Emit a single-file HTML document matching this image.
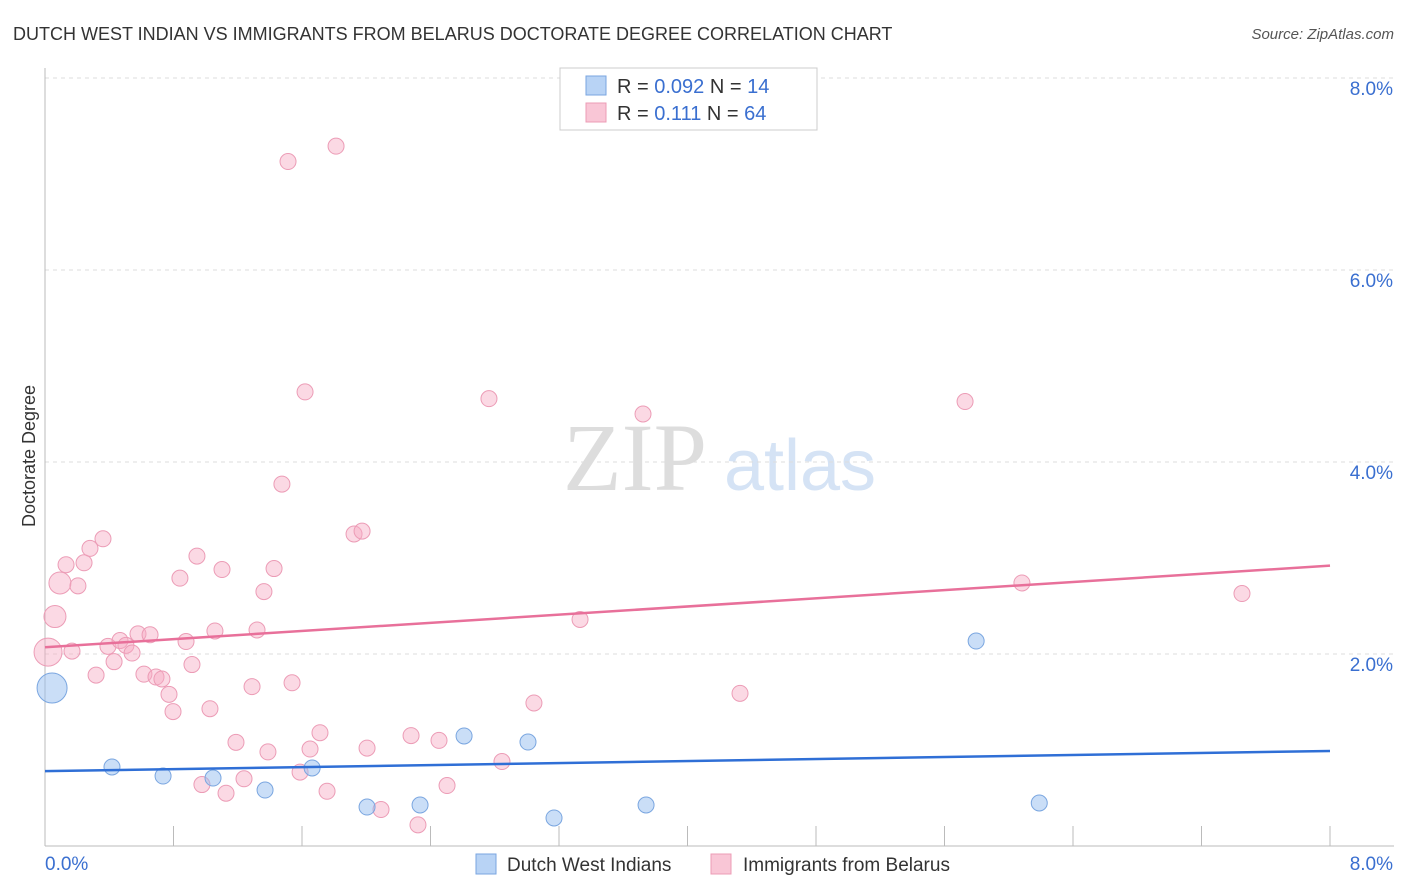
<!DOCTYPE html>
<html><head><meta charset="utf-8"><style>
body{margin:0;background:#fff;font-family:"Liberation Sans",sans-serif;}
#wrap{position:relative;width:1406px;height:892px;overflow:hidden}
</style></head><body>
<div id="wrap">
<svg id="svg" width="1406" height="892">
<text x="13" y="40" font-size="18" fill="#333">DUTCH WEST INDIAN VS IMMIGRANTS FROM BELARUS DOCTORATE DEGREE CORRELATION CHART</text>
<text x="1394" y="39" font-size="15" fill="#555" font-style="italic" text-anchor="end">Source: ZipAtlas.com</text>
<text x="35" y="456" font-size="18" fill="#333" text-anchor="middle" transform="rotate(-90 35 456)">Doctorate Degree</text>
<g><text x="635" y="490" font-size="96" fill="#ddd" font-family="Liberation Serif" text-anchor="middle">ZIP</text><text x="800" y="490" font-size="72" fill="#d5e3f5" text-anchor="middle">atlas</text></g>
<g id="grid"></g><g id="pts"></g><g id="lines"></g>
<g>
<rect x="560" y="68" width="257" height="62" fill="#fff" stroke="#ccc"/>
<rect x="586" y="76" width="20" height="19" fill="#b8d3f5" stroke="#7aa6e0"/>
<rect x="586" y="103" width="20" height="19" fill="#f9c6d6" stroke="#ec9cb6"/>
<text x="617" y="93" font-size="20" fill="#333">R = <tspan fill="#3a6fd0">0.092</tspan>   N = <tspan fill="#3a6fd0"> 14</tspan></text>
<text x="617" y="120" font-size="20" fill="#333">R = <tspan fill="#3a6fd0">  0.111</tspan>   N = <tspan fill="#3a6fd0">64</tspan></text>
</g>
<g>
<rect x="476" y="854" width="20" height="20" fill="#b8d3f5" stroke="#7aa6e0"/>
<text x="507" y="871" font-size="19" fill="#333">Dutch West Indians</text>
<rect x="711" y="854" width="20" height="20" fill="#f9c6d6" stroke="#ec9cb6"/>
<text x="743" y="871" font-size="19" fill="#333">Immigrants from Belarus</text>
</g>
</svg>
<script>
const yTicks=[2,4,6,8];
const xTickLabels=["0.0%","8.0%"];
const blueX=[0.044,0.417,0.735,1.046,1.37,1.663,2.005,2.335,2.609,3.007,3.169,3.742,5.797,6.19];
const blueY=[1.646,0.823,0.729,0.708,0.583,0.813,0.406,0.427,1.146,1.083,0.292,0.427,2.135,0.448];
const pinkX=[0.019,0.062,0.093,0.131,0.168,0.205,0.243,0.280,0.318,0.361,0.392,0.430,0.467,0.504,0.542,0.579,0.616,0.654,0.691,0.728,0.772,0.797,0.840,0.878,0.915,0.946,1.027,1.058,1.102,1.189,1.239,1.127,0.977,1.289,1.320,1.363,1.388,1.426,1.475,1.513,1.538,1.588,1.619,1.650,1.712,1.756,1.812,1.924,1.974,2.005,2.092,2.279,2.322,2.453,2.503,2.764,2.845,3.044,3.331,3.723,4.327,5.728,6.082,7.452];
const pinkY=[2.02,2.39,2.74,2.93,2.03,2.71,2.95,3.10,1.78,3.20,2.08,1.92,2.14,2.09,2.01,2.21,1.79,2.20,1.76,1.74,1.58,1.40,2.79,2.13,1.89,3.02,1.43,2.24,2.88,1.08,0.70,0.55,0.64,1.66,2.25,2.65,0.98,2.89,3.77,7.13,1.70,0.77,4.73,1.01,1.18,0.57,7.29,3.25,3.28,1.02,0.38,1.15,0.22,1.10,0.63,4.66,0.88,1.49,2.36,4.50,1.59,4.63,2.74,2.63];
const blueTrend=[0.78,0.99];
const pinkTrend=[2.07,2.92];
const X=v=>45+v/8*1285, Y=v=>846-v*96;
const NS="http://www.w3.org/2000/svg";
function mk(t,a,p){const e=document.createElementNS(NS,t);for(const k in a)e.setAttribute(k,a[k]);p.appendChild(e);return e;}
const g=document.getElementById('grid');
yTicks.forEach(t=>{
 const l=mk('line',{x1:45,x2:1394,y1:Y(t)-formatOff(),y2:Y(t)-formatOff(),stroke:'#ddd','stroke-dasharray':'4,4'},g);
 
 
 const tx=mk('text',{x:1393,y:Y(t)+17,'font-size':19,fill:'#3a6fd0','text-anchor':'end'},g);
 tx.textContent=t.toFixed(1)+'%';
 
 
});
function formatOff(){return 0;}
mk('line',{x1:45,x2:45,y1:68,y2:846,stroke:'#bbb'},g);
mk('line',{x1:45,x2:1394,y1:846,y2:846,stroke:'#bbb'},g);
for(let i=0;i<=10;i++){const t=mk('line',{x1:X(i*0.8),x2:X(i*0.8),y1:826,y2:846,stroke:'#bbb'},g);
 
 }
const xl0=mk('text',{x:45,y:870,'font-size':19,fill:'#3a6fd0'},g);xl0.textContent=xTickLabels[0];


const xl1=mk('text',{x:1393,y:870,'font-size':19,fill:'#3a6fd0','text-anchor':'end'},g);xl1.textContent=xTickLabels[1];


const P=document.getElementById('pts');
pinkX.forEach((x,i)=>{const r=i==0?14:(i<3?11:8);
 const c=mk('circle',{cx:X(x),cy:Y(pinkY[i]),r:r,fill:'rgba(246,170,195,0.45)',stroke:'#ec9cb6','stroke-width':1},P);
 
 });
blueX.forEach((x,i)=>{const r=i==0?15:8;
 const c=mk('circle',{cx:X(x),cy:Y(blueY[i]),r:r,fill:'rgba(150,190,240,0.5)',stroke:'#7aa6e0','stroke-width':1},P);
 
 });
const L=document.getElementById('lines');
const pl=mk('line',{x1:X(0),x2:X(8),y1:Y(pinkTrend[0]),y2:Y(pinkTrend[1]),stroke:'#e8709a','stroke-width':2.5},L);


const bl=mk('line',{x1:X(0),x2:X(8),y1:Y(blueTrend[0]),y2:Y(blueTrend[1]),stroke:'#2f6fd6','stroke-width':2.5},L);


</script>
</div></body></html>
